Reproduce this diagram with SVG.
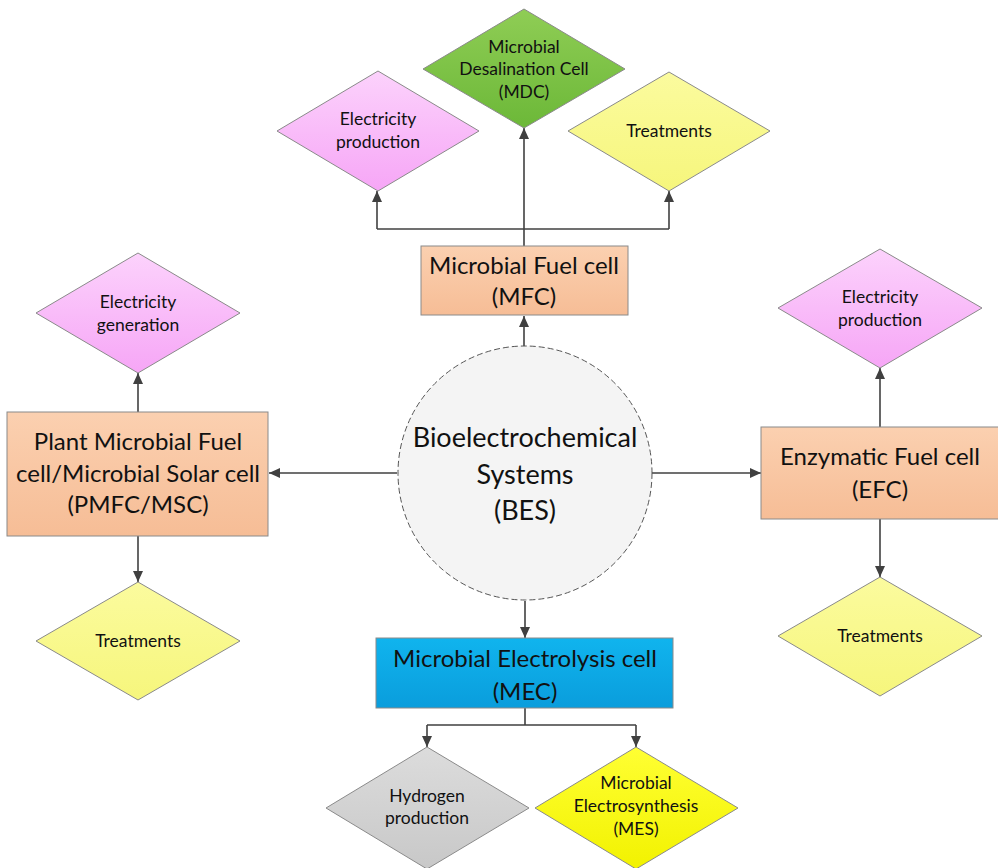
<svg xmlns="http://www.w3.org/2000/svg" width="998" height="868" viewBox="0 0 998 868">
<defs>
<linearGradient id="gPink" x1="0" y1="0" x2="0" y2="1"><stop offset="0" stop-color="#fcd2fc"/><stop offset="1" stop-color="#f6a6f6"/></linearGradient>
<linearGradient id="gGreen" x1="0" y1="0" x2="0" y2="1"><stop offset="0" stop-color="#8fcd55"/><stop offset="1" stop-color="#6cb838"/></linearGradient>
<linearGradient id="gYellow" x1="0" y1="0" x2="0" y2="1"><stop offset="0" stop-color="#fbfb9e"/><stop offset="1" stop-color="#f6f67c"/></linearGradient>
<linearGradient id="gYellow2" x1="0" y1="0" x2="0" y2="1"><stop offset="0" stop-color="#ffff33"/><stop offset="1" stop-color="#f2f200"/></linearGradient>
<linearGradient id="gGray" x1="0" y1="0" x2="0" y2="1"><stop offset="0" stop-color="#dcdcdc"/><stop offset="1" stop-color="#c8c8c8"/></linearGradient>
<linearGradient id="gPeach" x1="0" y1="0" x2="0" y2="1"><stop offset="0" stop-color="#fbd0b0"/><stop offset="1" stop-color="#f6bd96"/></linearGradient>
<linearGradient id="gBlue" x1="0" y1="0" x2="0" y2="1"><stop offset="0" stop-color="#10b4ee"/><stop offset="1" stop-color="#0a9ddc"/></linearGradient>
<marker id="arr" viewBox="0 0 11 10" refX="11" refY="5" markerWidth="11" markerHeight="10" markerUnits="userSpaceOnUse" orient="auto">
<path d="M0,0 L11,5 L0,10 Z" fill="#404040"/>
</marker>
<style>
.dia{stroke:#8a8a8a;stroke-width:1}
.box{stroke:#8a8a8a;stroke-width:1}
.con{fill:none;stroke:#404040;stroke-width:1.6}
.arw{marker-end:url(#arr)}
text{font-family:Lato,"Open Sans","Liberation Sans",sans-serif;fill:#111;text-anchor:middle}
.t16{font-size:17.5px}
.t22{font-size:24px}
.t25{font-size:27px}
</style>
</defs>

<g id="connectors">
<path class="con arw" d="M524,315 V128"/>
<path class="con" d="M377,229 H669"/>
<path class="con arw" d="M377,229 V191"/>
<path class="con arw" d="M669,229 V191"/>
<path class="con arw" d="M524,346 V316"/>
<path class="con arw" d="M397,473 H269"/>
<path class="con arw" d="M138,412 V373"/>
<path class="con arw" d="M138,536 V582"/>
<path class="con arw" d="M652,473 H761"/>
<path class="con arw" d="M880,427 V368"/>
<path class="con arw" d="M880,519 V577"/>
<path class="con arw" d="M525,601 V638"/>
<path class="con" d="M525,708 V725 M427,725 H636"/>
<path class="con arw" d="M427,725 V747"/>
<path class="con arw" d="M636,725 V747"/>
</g>

<g id="bes">
<circle cx="525" cy="473" r="127" fill="#f4f4f4" stroke="#555" stroke-width="1" stroke-dasharray="6,3"/>
<text class="t25" x="525" y="447">Bioelectrochemical</text>
<text class="t25" x="525" y="484">Systems</text>
<text class="t25" x="525" y="520">(BES)</text>
</g>

<g id="mfc">
<rect class="box" x="421" y="246" width="207" height="69" fill="url(#gPeach)"/>
<text class="t22" x="524" y="274">Microbial Fuel cell</text>
<text class="t22" x="524" y="305">(MFC)</text>
</g>

<g id="mfc-elec">
<polygon class="dia" points="378,71 479,131 378,191 277,131" fill="url(#gPink)"/>
<text class="t16" x="378" y="125">Electricity</text>
<text class="t16" x="378" y="148">production</text>
</g>

<g id="mdc">
<polygon class="dia" points="524,9 625,69 524,128 423,69" fill="url(#gGreen)"/>
<text class="t16" x="524" y="53">Microbial</text>
<text class="t16" x="524" y="75">Desalination Cell</text>
<text class="t16" x="524" y="98">(MDC)</text>
</g>

<g id="mfc-treat">
<polygon class="dia" points="669,72 770,131 669,191 568,131" fill="url(#gYellow)"/>
<text class="t16" x="669" y="137">Treatments</text>
</g>

<g id="pmfc">
<rect class="box" x="7" y="412" width="261" height="124" fill="url(#gPeach)"/>
<text class="t22" x="138" y="450">Plant Microbial Fuel</text>
<text class="t22" x="138" y="482">cell/Microbial Solar cell</text>
<text class="t22" x="138" y="513">(PMFC/MSC)</text>
</g>

<g id="pmfc-elec">
<polygon class="dia" points="138,253 240,313 138,373 36,313" fill="url(#gPink)"/>
<text class="t16" x="138" y="308">Electricity</text>
<text class="t16" x="138" y="331">generation</text>
</g>

<g id="pmfc-treat">
<polygon class="dia" points="138,582 240,641 138,700 36,641" fill="url(#gYellow)"/>
<text class="t16" x="138" y="647">Treatments</text>
</g>

<g id="efc">
<rect class="box" x="761" y="427" width="238" height="92" fill="url(#gPeach)"/>
<text class="t22" x="880" y="465">Enzymatic Fuel cell</text>
<text class="t22" x="880" y="498">(EFC)</text>
</g>

<g id="efc-elec">
<polygon class="dia" points="880,249 982,308 880,368 778,308" fill="url(#gPink)"/>
<text class="t16" x="880" y="303">Electricity</text>
<text class="t16" x="880" y="326">production</text>
</g>

<g id="efc-treat">
<polygon class="dia" points="880,577 982,636 880,696 778,636" fill="url(#gYellow)"/>
<text class="t16" x="880" y="642">Treatments</text>
</g>

<g id="mec">
<rect class="box" x="376" y="638" width="297" height="70" fill="url(#gBlue)"/>
<text class="t22" x="525" y="667">Microbial Electrolysis cell</text>
<text class="t22" x="525" y="700">(MEC)</text>
</g>

<g id="hydrogen">
<polygon class="dia" points="427,747 529,808 427,869 326,808" fill="url(#gGray)"/>
<text class="t16" x="427" y="802">Hydrogen</text>
<text class="t16" x="427" y="824">production</text>
</g>

<g id="mes">
<polygon class="dia" points="636,747 738,808 636,869 535,808" fill="url(#gYellow2)"/>
<text class="t16" x="636" y="789">Microbial</text>
<text class="t16" x="636" y="812">Electrosynthesis</text>
<text class="t16" x="636" y="835">(MES)</text>
</g>
</svg>
